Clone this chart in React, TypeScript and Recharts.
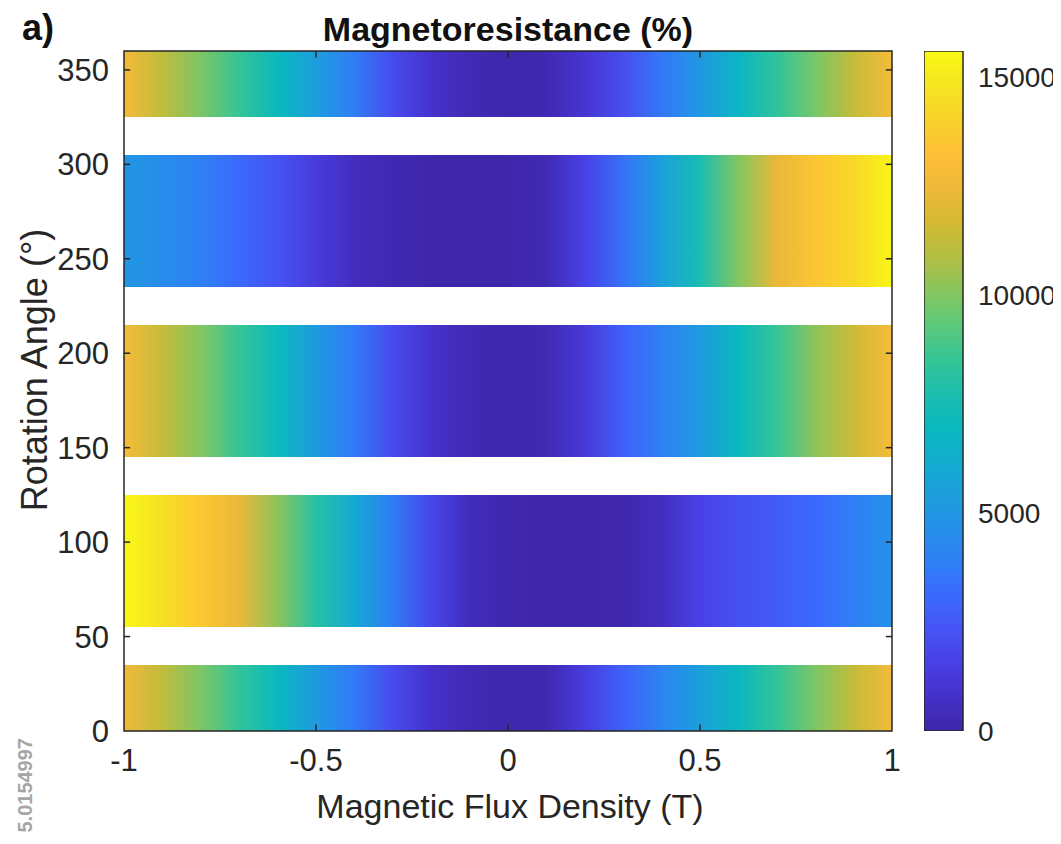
import React from "react";
import {
  ComposedChart,
  BarChart,
  Bar,
  XAxis,
  YAxis,
  Scatter,
  ReferenceArea,
  ReferenceLine
} from "recharts";

// magnetic flux density samples (T)
const fieldT = [
  -1, -0.9, -0.8, -0.7, -0.6, -0.5, -0.4, -0.3, -0.2, -0.1, 0,
  0.1, 0.2, 0.3, 0.4, 0.5, 0.6, 0.7, 0.8, 0.9, 1
];

// angle bands (deg) that carry data
const bandLow = [0, 55, 145, 235, 325];
const bandHigh = [35, 125, 215, 305, 360];

// magnetoresistance (%) per band, read along fieldT
const mr0 = [12600, 11200, 9900, 8400, 7000, 5200, 3700, 2000, 850, 350, 150, 250, 1400, 2800, 4100, 5500, 6900, 8400, 9900, 11300, 12700];
const mr90 = [15500, 14600, 13600, 12300, 10200, 8000, 6000, 3800, 1800, 500, 150, 80, 80, 150, 600, 1600, 2200, 2600, 3100, 3900, 4700];
const mr180 = [12800, 11300, 10000, 8500, 7100, 5200, 3700, 2000, 900, 300, 150, 300, 1200, 2800, 3900, 5200, 7000, 8500, 10200, 11500, 12800];
const mr270 = [5000, 4500, 3900, 3100, 2300, 1300, 550, 250, 100, 80, 100, 300, 1600, 3400, 5500, 7600, 10000, 12300, 13500, 14300, 15400];
const mr360 = [12700, 11200, 9900, 8500, 7000, 5400, 3800, 2000, 900, 300, 150, 250, 1000, 2100, 3600, 5100, 6800, 8300, 9800, 11300, 12800];

const bandValues = [mr0, mr90, mr180, mr270, mr360];

const xTicks = [-1, -0.5, 0, 0.5, 1];
const yTicks = [0, 50, 100, 150, 200, 250, 300, 350];
const cbarTicks = [0, 5000, 10000, 15000];
const cbarMax = 15600;

// parula-like colormap
const cmap: [number, number, number][] = [
  [62, 38, 168], [69, 48, 200], [72, 64, 228], [70, 84, 245], [58, 106, 254],
  [46, 128, 244], [37, 144, 232], [28, 159, 220], [18, 173, 206], [10, 185, 190],
  [30, 191, 172], [56, 197, 147], [94, 201, 120], [138, 197, 92], [180, 190, 66],
  [213, 185, 50], [240, 184, 58], [254, 191, 55], [249, 210, 42], [245, 229, 33],
  [249, 250, 20]
];

function colorAt(v: number) {
  const t = Math.max(0, Math.min(1, v / cbarMax)) * (cmap.length - 1);
  const i = Math.min(cmap.length - 2, Math.floor(t));
  const f = t - i;
  const a = cmap[i];
  const b = cmap[i + 1];
  const c = a.map((ch, k) => Math.round(ch + (b[k] - ch) * f));
  return `rgb(${c[0]},${c[1]},${c[2]})`;
}

const font = "'Liberation Sans', Arial, Helvetica, sans-serif";
const ink = "#262626";

const anchors = [
  { x: -1, y: 0 },
  { x: 1, y: 360 }
];

const cbarData = [{ name: "MR", value: cbarMax }];

function App() {
  return (
    <div style={{ position: "relative", width: 1053, height: 836 }}>
      <ComposedChart
        width={1053}
        height={836}
        margin={{ top: 43, right: 169, bottom: 0, left: 0 }}
      >
        <defs>
          {bandValues.map((vals, i) => (
            <linearGradient key={i} id={`band${i}`} x1="0" y1="0" x2="1" y2="0">
              {vals.map((v, j) => (
                <stop key={j} offset={(fieldT[j] + 1) / 2} stopColor={colorAt(v)} />
              ))}
            </linearGradient>
          ))}
        </defs>
        <XAxis
          type="number"
          dataKey="x"
          domain={[-1, 1]}
          ticks={xTicks}
          interval={0}
          allowDataOverflow
          height={113}
          axisLine={false}
          tickLine={false}
          tickSize={0}
          tickMargin={18}
          tick={{ fill: ink, fontSize: 31, fontFamily: font }}
        />
        <YAxis
          type="number"
          dataKey="y"
          domain={[0, 360]}
          ticks={yTicks}
          interval={0}
          allowDataOverflow
          width={116}
          axisLine={false}
          tickLine={false}
          tickSize={0}
          tickMargin={15}
          tick={{ fill: ink, fontSize: 31, fontFamily: font }}
        />
        {bandLow.map((lo, i) => (
          <ReferenceArea
            key={i}
            x1={-1}
            x2={1}
            y1={lo}
            y2={bandHigh[i]}
            fill={`url(#band${i})`}
            fillOpacity={1}
            stroke="none"
          />
        ))}
        {xTicks.slice(1, -1).map((t) => (
          <ReferenceLine key={`xb${t}`} segment={[{ x: t, y: 0 }, { x: t, y: 3.5 }]} stroke={ink} strokeWidth={1.5} />
        ))}
        {xTicks.slice(1, -1).map((t) => (
          <ReferenceLine key={`xt${t}`} segment={[{ x: t, y: 360 }, { x: t, y: 356.5 }]} stroke={ink} strokeWidth={1.5} />
        ))}
        {yTicks.slice(1).map((t) => (
          <ReferenceLine key={`yl${t}`} segment={[{ x: -1, y: t }, { x: -0.984, y: t }]} stroke={ink} strokeWidth={1.5} />
        ))}
        {yTicks.slice(1).map((t) => (
          <ReferenceLine key={`yr${t}`} segment={[{ x: 1, y: t }, { x: 0.984, y: t }]} stroke={ink} strokeWidth={1.5} />
        ))}
        <ReferenceArea x1={-1} x2={1} y1={0} y2={360} fill="none" stroke={ink} strokeWidth={1.5} />
        <Scatter data={anchors} fill="none" isAnimationActive={false} />
      </ComposedChart>

      <div style={{ position: "absolute", left: 916, top: 0 }}>
        <BarChart
          width={137}
          height={836}
          data={cbarData}
          margin={{ top: 43, right: 0, bottom: 113, left: 0 }}
          barCategoryGap={0}
        >
          <defs>
            <linearGradient id="cbar" x1="0" y1="1" x2="0" y2="0">
              {cmap.map((_, k) => {
                const v = (k / (cmap.length - 1)) * cbarMax;
                return <stop key={k} offset={v / cbarMax} stopColor={colorAt(v)} />;
              })}
            </linearGradient>
          </defs>
          <XAxis dataKey="name" hide />
          <YAxis
            orientation="right"
            domain={[0, cbarMax]}
            ticks={cbarTicks}
            interval={0}
            allowDataOverflow
            width={98}
            axisLine={false}
            tickLine={false}
            tickSize={0}
            tickMargin={15}
            tick={{ fill: ink, fontSize: 28, fontFamily: font, textAnchor: "start" }}
          />
          <Bar dataKey="value" fill="url(#cbar)" stroke={ink} strokeWidth={1.5} isAnimationActive={false} />
        </BarChart>
      </div>

      <svg
        width={1053}
        height={836}
        style={{ position: "absolute", left: 0, top: 0, pointerEvents: "none" }}
        fontFamily={font}
      >
        <text x={14} y={32} fontSize={36} fontWeight="bold" fill="#111">a)</text>
        <text x={500} y={33} fontSize={34} fontWeight="bold" fill="#111" textAnchor="middle">
          Magnetoresistance (%)
        </text>
        <text x={502} y={810} fontSize={34} fill={ink} textAnchor="middle">
          Magnetic Flux Density (T)
        </text>
        <text transform="translate(39,362) rotate(-90)" fontSize={36} fill={ink} textAnchor="middle">
          Rotation Angle (°)
        </text>
        <text transform="translate(24,730) rotate(-90)" fontSize={20} fontWeight="bold" fill="#a6a6a6" textAnchor="end">
          5.0154997
        </text>
      </svg>
    </div>
  );
}

export default App;
